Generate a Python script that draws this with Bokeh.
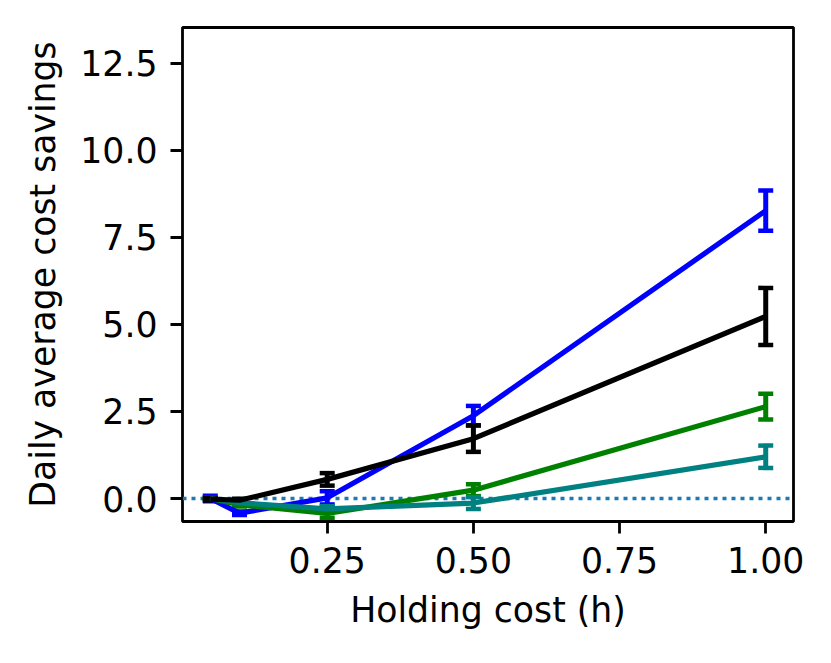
from bokeh.plotting import figure
from bokeh.models import ColumnDataSource, Whisker, TeeHead, Span, Range1d, FixedTicker
from bokeh.embed import file_html
from bokeh.resources import INLINE

# ---- data ----
holding_cost = [0.05, 0.1, 0.25, 0.5, 1.0]

blue_vals = [0.0, -0.42, 0.02, 2.38, 8.27]
blue_err = [0.08, 0.05, 0.19, 0.28, 0.58]

black_vals = [-0.02, -0.05, 0.55, 1.72, 5.23]
black_err = [0.04, 0.04, 0.18, 0.38, 0.82]

green_vals = [0.0, -0.18, -0.43, 0.24, 2.64]
green_err = [0.03, 0.05, 0.12, 0.17, 0.37]

teal_vals = [0.0, -0.12, -0.30, -0.13, 1.20]
teal_err = [0.03, 0.04, 0.08, 0.17, 0.32]

x_ticks = [0.25, 0.5, 0.75, 1.0]
x_tick_labels = ["0.25", "0.50", "0.75", "1.00"]
y_ticks = [0.0, 2.5, 5.0, 7.5, 10.0, 12.5]
y_tick_labels = ["0.0", "2.5", "5.0", "7.5", "10.0", "12.5"]

x_label = "Holding cost (h)"
y_label = "Daily average cost savings"

FONT = "DejaVu Sans"
FS = "34.7px"

p = figure(frame_width=611, frame_height=494,
           x_range=Range1d(0.0025, 1.0475), y_range=Range1d(-0.66, 13.53),
           output_backend="svg", toolbar_location=None,
           min_border_left=182, min_border_top=27, min_border_right=20,
           min_border_bottom=125, background_fill_color="white",
           border_fill_color="white")

p.xgrid.visible = False
p.ygrid.visible = False
p.outline_line_color = "black"
p.outline_line_width = 2.8
p.outline_line_alpha = 1.0

# zero reference line
p.add_layout(Span(location=0, dimension="width", line_color="#1f77b4",
                  line_width=3.5, line_dash="4 5", level="underlay"))

series = [
    ("#0000ff", blue_vals, blue_err),
    ("#008000", green_vals, green_err),
    ("#008080", teal_vals, teal_err),
    ("#000000", black_vals, black_err),
]

for color, vals, errs in series:
    src = ColumnDataSource(dict(
        x=holding_cost, y=vals,
        upper=[v + e for v, e in zip(vals, errs)],
        lower=[v - e for v, e in zip(vals, errs)],
    ))
    p.line("x", "y", source=src, line_color=color, line_width=5.2,
           line_join="round")
    w = Whisker(source=src, base="x", upper="upper", lower="lower",
                dimension="height", line_color=color, line_width=5.0,
                upper_head=TeeHead(size=15, line_color=color, line_width=4.5),
                lower_head=TeeHead(size=15, line_color=color, line_width=4.5))
    p.add_layout(w)

for ax in (p.xaxis[0], p.yaxis[0]):
    ax.axis_line_color = None
    ax.major_tick_line_color = "black"
    ax.major_tick_line_width = 2.8
    ax.major_tick_out = 12
    ax.major_tick_in = 0
    ax.minor_tick_line_color = None
    ax.major_label_text_font = FONT
    ax.major_label_text_font_size = FS
    ax.major_label_text_color = "black"
    ax.axis_label_text_font = FONT
    ax.axis_label_text_font_size = FS
    ax.axis_label_text_font_style = "normal"
    ax.axis_label_text_color = "black"

p.xaxis.ticker = FixedTicker(ticks=x_ticks)
p.xaxis.major_label_overrides = dict(zip(x_ticks, x_tick_labels))
p.yaxis.ticker = FixedTicker(ticks=y_ticks)
p.yaxis.major_label_overrides = dict(zip(y_ticks, y_tick_labels))

p.xaxis.axis_label = x_label
p.yaxis.axis_label = y_label
p.xaxis.major_label_standoff = 13
p.yaxis.major_label_standoff = 13
p.xaxis.axis_label_standoff = 14
p.yaxis.axis_label_standoff = 14

open("out.html", "w").write(file_html(p, INLINE))
